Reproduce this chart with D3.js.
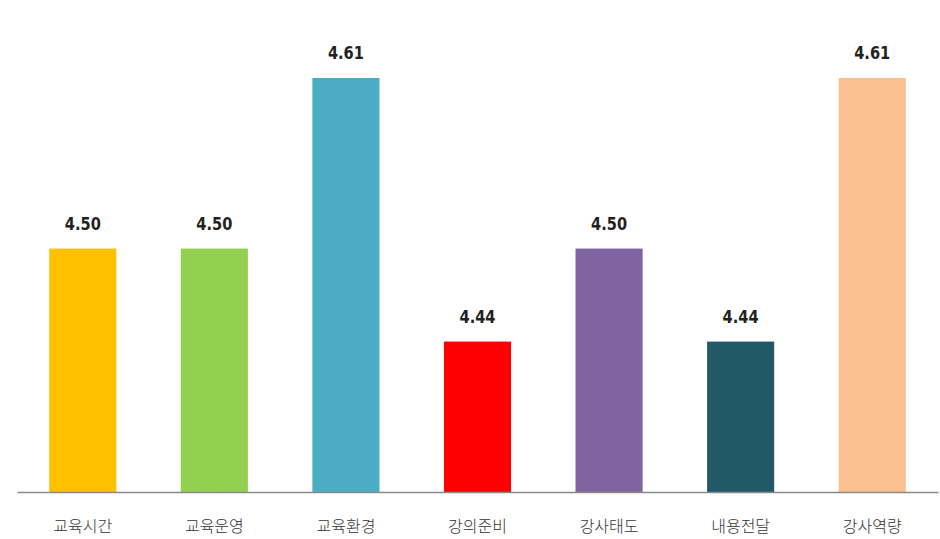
<!DOCTYPE html>
<html><head><meta charset="utf-8">
<script src="https://cdn.jsdelivr.net/npm/d3@7"></script>
<style>body{margin:0;background:#fff}</style>
</head><body>
<svg id="c" width="940" height="539"></svg>
<script>
const categories = ["교육시간","교육운영","교육환경","강의준비","강사태도","내용전달","강사역량"];
const values = [4.50, 4.50, 4.61, 4.44, 4.50, 4.44, 4.61];
const colors = ["#FFC000","#92D050","#4BACC6","#FF0000","#8064A2","#215968","#FAC090"];

const svg = d3.select("#c");
const baseY = 492;
const x = d3.scaleBand().domain(categories).range([17, 938]).paddingInner(0.49).paddingOuter(0.245);
const y = d3.scaleLinear().domain([4.343, 4.61]).range([baseY, 78]);

svg.selectAll("rect.bar").data(values).join("rect")
  .attr("class","bar")
  .attr("x",(d,i)=>x(categories[i]))
  .attr("width",x.bandwidth())
  .attr("y",d=>y(d))
  .attr("height",d=>baseY-y(d))
  .attr("fill",(d,i)=>colors[i]);

svg.selectAll("text.val").data(values).join("text")
  .attr("class","val")
  .attr("transform",(d,i)=>`translate(${x(categories[i])+x.bandwidth()/2},${y(d)-19}) scale(0.86,1)`)
  .attr("text-anchor","middle")
  .attr("font-family","'DejaVu Sans',sans-serif")
  .attr("font-weight","bold")
  .attr("font-size",17)
  .attr("fill","#222")
  .text(d=>d.toFixed(2));

const axis = d3.axisBottom(x).tickSize(0).tickPadding(29);
const g = svg.append("g").attr("transform",`translate(0,${baseY})`).call(axis);
g.select(".domain").attr("stroke","#8a8a8a").attr("stroke-width",1.5);
g.selectAll(".tick text")
  .attr("font-family","'Noto Sans CJK KR',sans-serif")
  .attr("font-weight",300)
  .attr("font-size",16)
  .attr("fill","#333");
</script>
</body></html>
